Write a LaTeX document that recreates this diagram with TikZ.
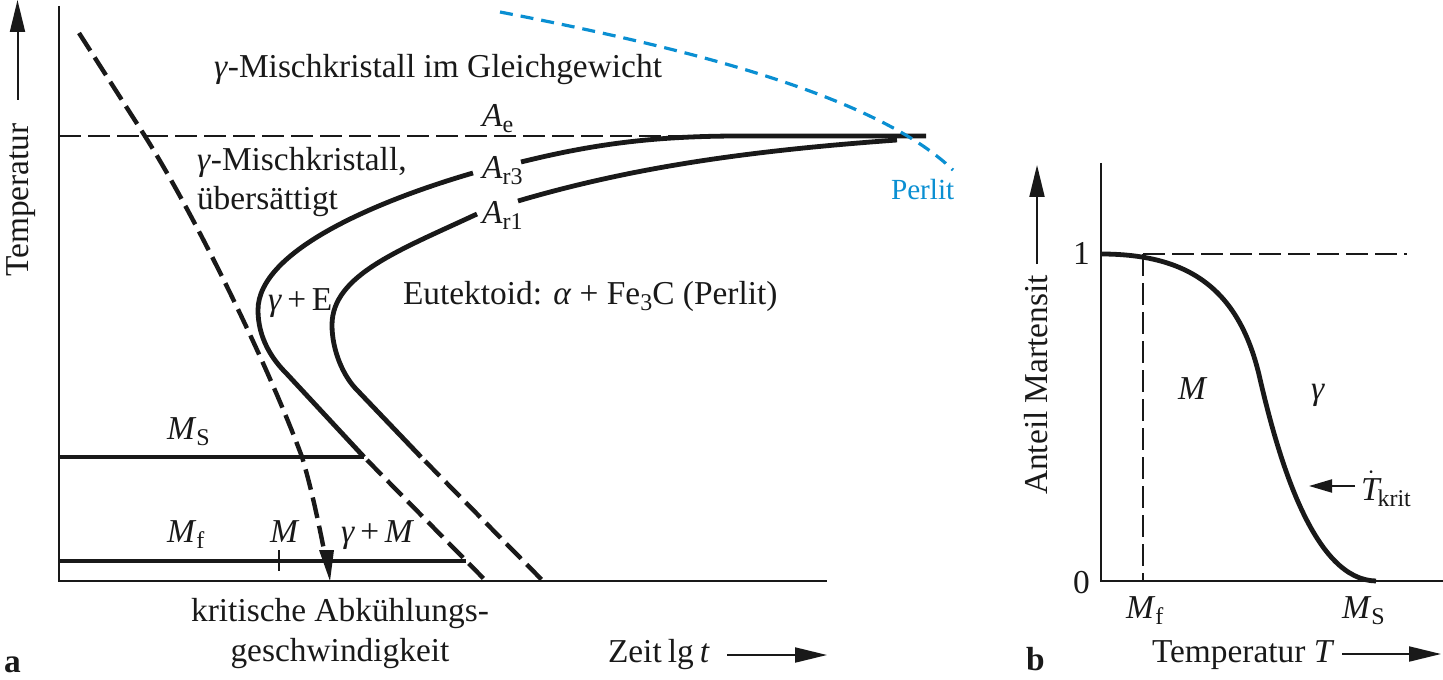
\documentclass[tikz,border=0pt]{standalone}
\usepackage{fontspec}
\setmainfont{Liberation Serif}
\usetikzlibrary{arrows.meta}
\newcommand{\tief}[1]{\raisebox{-3pt}{\fontsize{12}{12}\selectfont #1}}
\newcommand{\idx}[2]{\textit{#1}\tief{#2}}
\definecolor{perlitblau}{HTML}{0A8FD2}

\begin{document}
\begin{tikzpicture}[x=.5pt,y=-.5pt,
  every node/.style={inner sep=0pt,outer sep=0pt,anchor=base west,text=black!90,font=\fontsize{16.7}{20}\selectfont},
  achse/.style={line width=1.2pt,black!90},
  duenn/.style={line width=.9pt,black!90,dash pattern=on 11pt off 3.5pt},
  kurve/.style={line width=2.4pt,black!90},
  strich/.style={line width=2.2pt,black!90,dash pattern=on 10.5pt off 4pt},
  pfeil/.style={line width=1pt,black!90,-{Triangle[length=16pt,width=7.5pt]}},
  pfeilk/.style={line width=1pt,black!90,-{Triangle[length=11.5pt,width=6.5pt]}}]
\useasboundingbox (0,0) rectangle (1443,679);

% Teilbild a
\coordinate (o) at (59,581);
\draw[achse] (59,6)--(o)--(827,581);
\coordinate (t1) at (17.5,100);
\coordinate (t2) at (17.5,0);
\draw[pfeil] (t1)--(t2);
\node[rotate=90,anchor=base] (temp) at (28,200) {Temperatur};

\draw[duenn] (59,136)--(720,136);
\draw[kurve] (521,162) .. controls (590,145) and (650,136) .. (740,136)--(926,136);
\draw[kurve] (473,173) .. controls (380,200) and (258,250) .. (258,310) .. controls (258,338) and (272,359) .. (286,373)--(364,457);
\draw[kurve] (518,201) .. controls (640,165) and (760,150) .. (897,140);
\draw[kurve] (477,214) .. controls (400,250) and (332,275) .. (332,325) .. controls (332,350) and (343,376) .. (357,390)--(421,457);

\coordinate (a3) at (367,460);
\coordinate (a3f) at (486,581);
\coordinate (a1) at (425,461);
\coordinate (a1f) at (543,581);
\draw[strich] (a3)--(a3f);
\draw[strich] (a1)--(a1f);

\draw[kurve] (59,457)--(364,457);
\draw[kurve] (59,561)--(466,561);
\draw[line width=.8pt,black!90] (279,550)--(279,571);

% kritische Abkuehlung
\draw[strich] (79,33)--(143,133) .. controls (195,215) and (268,365) .. (302,457) .. controls (312,490) and (320,530) .. (325,555);
\fill[black!90] (330,581)--(319,550)--(334,550)--cycle;

\draw[line width=1.6pt,perlitblau,dash pattern=on 6.5pt off 4pt] (500,12) .. controls (670,45) and (872,92) .. (953,170);

\node (gg) at (214,78) {\textit{γ}-Mischkristall im Gleichgewicht};
\node (ae) at (482,127) {\idx{A}{e}};
\node[align=left] (us) at (197,210) {\textit{γ}-Mischkristall,\\übersättigt};
\node (ar3) at (482,178) {\idx{A}{r3}};
\node (ar1) at (482,223) {\idx{A}{r1}};
\node (ge) at (268,310) {\textit{γ}\,+\,E};
\node (eu) at (403,304) {Eutektoid: \textit{α} + Fe\tief{3}C (Perlit)};
\node[text=perlitblau,font=\fontsize{14.6}{16}\selectfont] (pe) at (891,199) {Perlit};
\node (ms) at (167,439) {\idx{M}{S}};
\node (mf) at (167,542) {\idx{M}{f}};
\node (m) at (270,542) {\textit{M}};
\node (gm) at (341,542) {\textit{γ}\,+\,\textit{M}};
\node[anchor=base,align=center] (ka) at (340,661) {kritische Abkühlungs-\\geschwindigkeit};
\node (la) at (4,672) {\textbf{a}};
\node (zt) at (608,662) {Zeit\hspace{.18em}lg\hspace{.18em}\textit{t}};
\coordinate (z1) at (727,655);
\coordinate (z2) at (827,655);
\draw[pfeil] (z1)--(z2);

% Teilbild b
\coordinate (p) at (1101,581);
\draw[achse] (1101,163)--(p)--(1443,581);
\coordinate (v1) at (1037,264);
\coordinate (v2) at (1037,165);
\draw[pfeil] (v1)--(v2);
\node[rotate=90,anchor=base] (am) at (1047,385) {Anteil Martensit};
\draw[duenn] (1143,254)--(1407,254);
\draw[duenn] (1143,254)--(1143,581);
\draw[kurve] (1101,254) .. controls (1190,254) and (1240,290) .. (1260,379) .. controls (1280,465) and (1315,580) .. (1376,581);

\node (e1) at (1073,264) {1};
\node (e0) at (1073,593) {0};
\node (bmf) at (1126,618) {\idx{M}{f}};
\node (bms) at (1342,618) {\idx{M}{S}};
\node (bm) at (1178,399) {\textit{M}};
\node (bg) at (1311,399) {\textit{γ}};
\node (tk) at (1361,500) {$\dot{\mbox{\textit{T}}}$\hspace{-2pt}\tief{krit}};
\coordinate (k1) at (1355,486);
\coordinate (k2) at (1309,486);
\draw[pfeilk] (k1)--(k2);
\node (tt) at (1152,662) {Temperatur \textit{T}};
\coordinate (w1) at (1342,654);
\coordinate (w2) at (1441,654);
\draw[pfeil] (w1)--(w2);
\node (lb) at (1026,670) {\textbf{b}};
\end{tikzpicture}
\end{document}
